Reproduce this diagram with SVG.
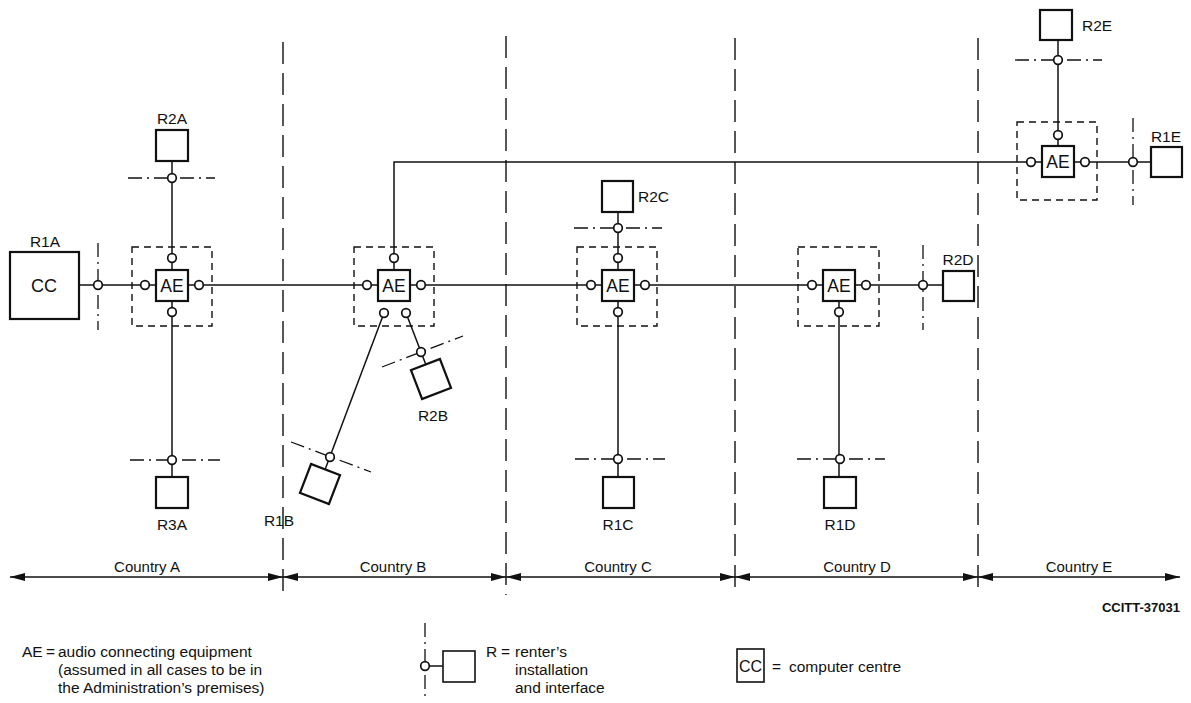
<svg xmlns="http://www.w3.org/2000/svg" width="1191" height="703" viewBox="0 0 1191 703">
<style>
text{font-family:"Liberation Sans",Arial,sans-serif;fill:#111}
.lbl{font-size:15.5px;text-anchor:middle}
.lbs{font-size:15.5px;text-anchor:start}
.cty{font-size:15px;text-anchor:middle}
.ae{font-size:17.5px;text-anchor:middle}
.ln{stroke:#111;stroke-width:1.5;fill:none}
.bx{stroke:#111;stroke-width:2.2;fill:#fff}
.enc{stroke:#111;stroke-width:1.4;fill:none;stroke-dasharray:7 5}
.dd{stroke:#111;stroke-width:1.3;fill:none;stroke-dasharray:14 5 2 5}
.div{stroke:#111;stroke-width:1.4;fill:none;stroke-dasharray:22 9}
.c{fill:#fff;stroke:#111;stroke-width:1.7}
.leg{font-size:15.5px}
</style>
<defs>
<marker id="ah" markerUnits="userSpaceOnUse" markerWidth="16" markerHeight="10" refX="15" refY="5" orient="auto-start-reverse">
<path d="M0,1 L15,5 L0,9 z" fill="#111"/>
</marker>
</defs>
<rect width="1191" height="703" fill="#fff"/>

<g id="connectors">
<path class="div" d="M283,42 V595 M506,36 V595 M735,38 V595 M978,38 V595"/>
<path class="ln" d="M79,285 H943"/>
<path class="ln" d="M394,285 V162 H1151"/>
<path class="ln" d="M172,161 V477"/>
<path class="ln" d="M618,212 V477"/>
<path class="ln" d="M839,285 V477"/>
<path class="ln" d="M1058,40 V162"/>
<path class="ln" d="M384,313 L320,483"/>
<path class="ln" d="M406,313 L431,378"/>
<g class="ln" marker-start="url(#ah)" marker-end="url(#ah)">
<line x1="10" y1="577" x2="283" y2="577"/>
<line x1="283" y1="577" x2="506" y2="577"/>
<line x1="506" y1="577" x2="735" y2="577"/>
<line x1="735" y1="577" x2="978" y2="577"/>
<line x1="978" y1="577" x2="1180" y2="577"/>
</g>
</g>

<g id="AE-A">
<rect class="enc" x="132" y="247" width="80" height="79"/>
<rect class="bx" x="156" y="270" width="32" height="31"/>
<text class="ae" x="172" y="292">AE</text>
<circle class="c" cx="145" cy="285" r="4.3"/><circle class="c" cx="199" cy="285" r="4.3"/>
<circle class="c" cx="172" cy="258" r="4.3"/><circle class="c" cx="172" cy="312" r="4.3"/>
</g>
<g id="AE-B">
<rect class="enc" x="354" y="247" width="80" height="79"/>
<rect class="bx" x="378" y="270" width="32" height="31"/>
<text class="ae" x="394" y="292">AE</text>
<circle class="c" cx="367" cy="285" r="4.3"/><circle class="c" cx="421" cy="285" r="4.3"/>
<circle class="c" cx="394" cy="258" r="4.3"/>
<circle class="c" cx="384" cy="313" r="4.3"/><circle class="c" cx="406" cy="313" r="4.3"/>
</g>
<g id="AE-C">
<rect class="enc" x="577" y="247" width="80" height="79"/>
<rect class="bx" x="602" y="270" width="32" height="31"/>
<text class="ae" x="618" y="292">AE</text>
<circle class="c" cx="591" cy="285" r="4.3"/><circle class="c" cx="645" cy="285" r="4.3"/>
<circle class="c" cx="618" cy="258" r="4.3"/><circle class="c" cx="618" cy="312" r="4.3"/>
</g>
<g id="AE-D">
<rect class="enc" x="798" y="247" width="81" height="79"/>
<rect class="bx" x="823" y="270" width="32" height="31"/>
<text class="ae" x="839" y="292">AE</text>
<circle class="c" cx="812" cy="285" r="4.3"/><circle class="c" cx="866" cy="285" r="4.3"/>
<circle class="c" cx="839" cy="312" r="4.3"/>
</g>
<g id="AE-E">
<rect class="enc" x="1017" y="122" width="80" height="78"/>
<rect class="bx" x="1042" y="146" width="32" height="31"/>
<text class="ae" x="1058" y="168">AE</text>
<circle class="c" cx="1031" cy="162" r="4.3"/><circle class="c" cx="1085" cy="162" r="4.3"/>
<circle class="c" cx="1058" cy="135" r="4.3"/>
</g>

<g id="R1A">
<line class="dd" x1="98" y1="243" x2="98" y2="330"/>
<circle class="c" cx="98" cy="285" r="4.3"/>
<rect class="bx" x="10" y="252" width="69" height="67"/>
<text x="44" y="292" font-size="18" text-anchor="middle">CC</text>
<text class="lbl" x="45" y="247">R1A</text>
</g>
<g id="R2A">
<line class="dd" x1="128" y1="178" x2="215" y2="178"/>
<circle class="c" cx="172" cy="178" r="4.3"/>
<rect class="bx" x="156" y="130" width="32" height="31"/>
<text class="lbl" x="172" y="124">R2A</text>
</g>
<g id="R3A">
<line class="dd" x1="130" y1="460" x2="220" y2="460"/>
<circle class="c" cx="172" cy="460" r="4.3"/>
<rect class="bx" x="156" y="477" width="32" height="31"/>
<text class="lbl" x="172" y="530">R3A</text>
</g>
<g id="R1B">
<line class="dd" x1="291" y1="442" x2="371" y2="472"/>
<circle class="c" cx="330" cy="457" r="4.3"/>
<rect class="bx" x="-15.5" y="-15.5" width="31" height="31" transform="translate(320,484) rotate(21)"/>
<text class="lbl" x="279" y="526">R1B</text>
</g>
<g id="R2B">
<line class="dd" x1="382" y1="367" x2="463" y2="336"/>
<circle class="c" cx="421" cy="352" r="4.3"/>
<rect class="bx" x="-15.5" y="-15.5" width="31" height="31" transform="translate(431,379) rotate(-21)"/>
<text class="lbl" x="433" y="421">R2B</text>
</g>
<g id="R2C">
<line class="dd" x1="574" y1="228" x2="662" y2="228"/>
<circle class="c" cx="618" cy="228" r="4.3"/>
<rect class="bx" x="602" y="181" width="31" height="31"/>
<text class="lbs" x="638" y="202">R2C</text>
</g>
<g id="R1C">
<line class="dd" x1="575" y1="459" x2="665" y2="459"/>
<circle class="c" cx="618" cy="459" r="4.3"/>
<rect class="bx" x="603" y="477" width="31" height="31"/>
<text class="lbl" x="618" y="530">R1C</text>
</g>
<g id="R2D">
<line class="dd" x1="923" y1="245" x2="923" y2="330"/>
<circle class="c" cx="923" cy="285" r="4.3"/>
<rect class="bx" x="943" y="271" width="31" height="30"/>
<text class="lbl" x="958" y="265">R2D</text>
</g>
<g id="R1D">
<line class="dd" x1="797" y1="459" x2="885" y2="459"/>
<circle class="c" cx="840" cy="459" r="4.3"/>
<rect class="bx" x="824" y="477" width="32" height="31"/>
<text class="lbl" x="840" y="530">R1D</text>
</g>
<g id="R2E">
<line class="dd" x1="1015" y1="60" x2="1102" y2="60"/>
<circle class="c" cx="1058" cy="60" r="4.3"/>
<rect class="bx" x="1040" y="10" width="32" height="30"/>
<text class="lbs" x="1082" y="31">R2E</text>
</g>
<g id="R1E">
<line class="dd" x1="1133" y1="118" x2="1133" y2="205"/>
<circle class="c" cx="1133" cy="162" r="4.3"/>
<rect class="bx" x="1151" y="147" width="31" height="30"/>
<text class="lbl" x="1166" y="142">R1E</text>
</g>

<g id="countries" class="cty">
<text x="147" y="572">Country A</text>
<text x="393" y="572">Country B</text>
<text x="618" y="572">Country C</text>
<text x="857" y="572">Country D</text>
<text x="1079" y="572">Country E</text>
</g>
<text x="1180" y="612" font-size="13" font-weight="bold" text-anchor="end">CCITT-37031</text>

<g id="legend-AE" class="leg">
<text x="22" y="657">AE</text>
<text x="46" y="657">=</text>
<text x="58" y="657">audio connecting equipment</text>
<text x="58" y="675">(assumed in all cases to be in</text>
<text x="58" y="693">the Administration’s premises)</text>
</g>
<g id="legend-R">
<line class="dd" x1="425" y1="623" x2="425" y2="700"/>
<line class="ln" x1="425" y1="666" x2="443" y2="666"/>
<circle class="c" cx="425" cy="666" r="4.3"/>
<rect x="443" y="651" width="32" height="31" fill="#fff" stroke="#111" stroke-width="1.6"/>
<text class="leg" x="486" y="657">R</text>
<text class="leg" x="501" y="657">=</text>
<text class="leg" x="515" y="657">renter’s</text>
<text class="leg" x="515" y="675">installation</text>
<text class="leg" x="515" y="693">and interface</text>
</g>
<g id="legend-CC">
<rect x="737" y="649" width="27" height="33" fill="#fff" stroke="#111" stroke-width="1.6"/>
<text x="750.5" y="672" font-size="16" text-anchor="middle">CC</text>
<text class="leg" x="772" y="672">=</text>
<text class="leg" x="789" y="672">computer centre</text>
</g>
</svg>
